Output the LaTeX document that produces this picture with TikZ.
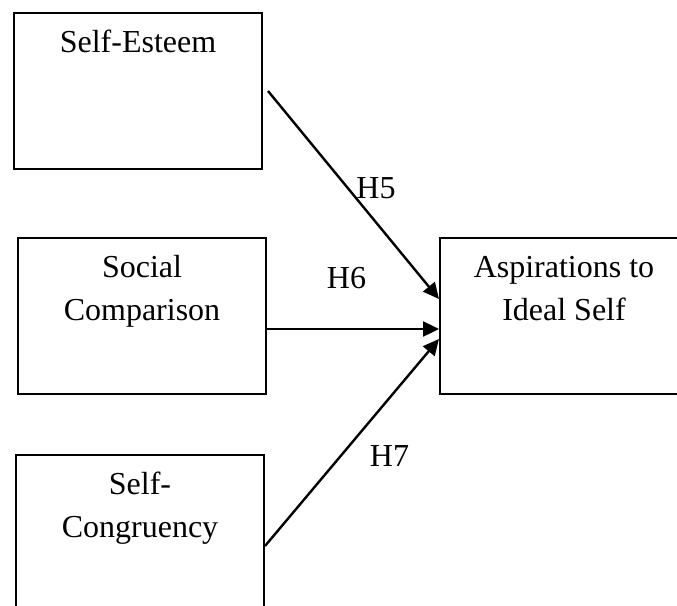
\documentclass[tikz,border=0pt]{standalone}
\usepackage{fontspec}
\setmainfont{Liberation Serif}
\usetikzlibrary{arrows.meta}
\begin{document}
\begin{tikzpicture}[x=1pt, y=-1pt,
  box/.style={draw, line width=2pt, rectangle, inner sep=0pt,
    minimum width=248pt, minimum height=156pt, anchor=north west},
  boxtext/.style={font=\fontsize{32}{43}\selectfont, align=center, inner sep=0pt, anchor=base},
  hlabel/.style={font=\fontsize{32}{43}\selectfont, inner sep=0pt, anchor=base},
  link/.style={line width=2.4pt, -{Triangle[length=16pt, width=15pt]}}]
  \useasboundingbox (0,0) rectangle (677,605);
  \clip (0,0) rectangle (677,605);

  % boxes
  \node[box] (se)  at (13,12)   {};
  \node[box] (sc)  at (17,237)  {};
  \node[box] (cg)  at (15,454)  {};
  \node[box] (asp) at (439,237) {};

  % box captions, set from the top of each box
  \node[boxtext] (se-t)  at ([yshift=-40pt]se.north)  {Self-Esteem};
  \node[boxtext] (sc-t)  at ([yshift=-83pt]sc.north)  {Social\\Comparison};
  \node[boxtext] (cg-t)  at ([yshift=-83pt]cg.north)  {Self-\\Congruency};
  \node[boxtext] (asp-t) at ([yshift=-83pt]asp.north) {Aspirations to\\Ideal Self};

  % paths into the outcome box
  \coordinate (h5s) at ([xshift=5pt]se.east);
  \coordinate (h6s) at ([yshift=-13pt]sc.east);
  \coordinate (h7s) at ([yshift=-13pt]cg.east);
  \coordinate (h5e) at ([yshift=17pt]asp.west);
  \coordinate (h6e) at ([yshift=-13pt]asp.west);
  \coordinate (h7e) at ([yshift=-23pt]asp.west);

  \draw[link] (h5s) -- (h5e);
  \draw[link] (h6s) -- (h6e);
  \draw[link] (h7s) -- (h7e);

  % hypothesis labels
  \node[hlabel] (h5) at (376,198) {H5};
  \node[hlabel] (h6) at (346.5,288) {H6};
  \node[hlabel] (h7) at (389.5,466) {H7};
\end{tikzpicture}
\end{document}
